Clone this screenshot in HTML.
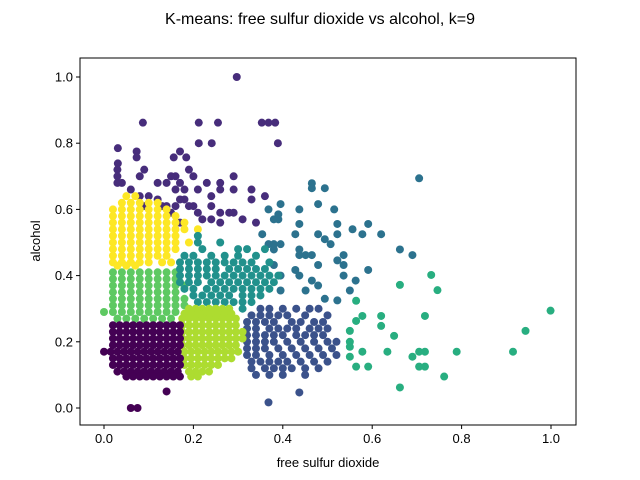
<!DOCTYPE html>
<html><head><meta charset="utf-8"><style>
html,body{margin:0;padding:0;background:#fff}
svg{display:block;font-family:"Liberation Sans","DejaVu Sans",sans-serif}
</style></head><body>
<svg id="chart" width="640" height="480" viewBox="0 0 640 480">
<text x="320" y="24" text-anchor="middle" font-size="16" fill="#000">K-means: free sulfur dioxide vs alcohol, k=9</text>
<g id="points"></g>
<rect x="80" y="58" width="496" height="367" fill="none" stroke="#000" stroke-width="1"/>
<g id="xticks"></g>
<g id="yticks"></g>
<text x="328" y="467" text-anchor="middle" font-size="13">free sulfur dioxide</text>
<text x="40" y="241" text-anchor="middle" font-size="13" transform="rotate(-90 40 241)">alcohol</text>
</svg>
<script>
const xTicks=[0.0,0.2,0.4,0.6,0.8,1.0];
const yTicks=[0.0,0.2,0.4,0.6,0.8,1.0];
const tickLabels=["0.0","0.2","0.4","0.6","0.8","1.0"];
const clusterColors=["#440154","#472d7b","#3b528b","#2c728e","#21918c","#28ae80","#5ec962","#addc30","#fde725"];
// each cluster: rows of [alcohol, [free sulfur dioxide values]]
const cluster0=[[0.25,[0.02,0.035,0.05,0.065,0.08,0.095,0.11,0.125,0.14,0.155,0.17]],[0.23,[0.02,0.035,0.05,0.065,0.08,0.095,0.11,0.125,0.14,0.155,0.17]],[0.21,[0.02,0.035,0.05,0.065,0.08,0.095,0.11,0.125,0.14,0.155,0.17]],[0.19,[0.02,0.035,0.05,0.065,0.08,0.095,0.11,0.125,0.14,0.155,0.17]],[0.17,[0.0,0.015,0.03,0.045,0.06,0.075,0.09,0.105,0.12,0.135,0.15,0.165]],[0.15,[0.02,0.035,0.05,0.065,0.08,0.095,0.11,0.125,0.14,0.155,0.17]],[0.13,[0.02,0.035,0.05,0.065,0.08,0.095,0.11,0.125,0.14,0.155,0.17]],[0.11,[0.03,0.045,0.06,0.075,0.09,0.105,0.12,0.135,0.15,0.165]],[0.095,[0.05,0.065,0.08,0.095,0.11,0.125,0.14,0.155,0.17]],[0.05,[0.14]],[0.0,[0.06,0.075]]];
const cluster7=[[0.30,[0.19,0.205,0.22,0.235,0.25,0.265,0.28]],[0.285,[0.18,0.195,0.21,0.225,0.24,0.255,0.27,0.285]],[0.27,[0.175,0.19,0.205,0.22,0.235,0.25,0.265,0.28,0.295]],[0.25,[0.175,0.19,0.205,0.22,0.235,0.25,0.265,0.28,0.295]],[0.23,[0.175,0.19,0.205,0.22,0.235,0.25,0.265,0.28,0.295,0.31]],[0.21,[0.175,0.19,0.205,0.22,0.235,0.25,0.265,0.28,0.295,0.31]],[0.19,[0.175,0.19,0.205,0.22,0.235,0.25,0.265,0.28,0.295]],[0.17,[0.18,0.195,0.21,0.225,0.24,0.255,0.27,0.285,0.30]],[0.15,[0.18,0.195,0.21,0.225,0.24,0.255,0.27,0.285]],[0.13,[0.18,0.195,0.21,0.225,0.24,0.255]],[0.11,[0.19,0.205,0.22,0.235]],[0.095,[0.195,0.21]]];
const cluster2=[[0.30,[0.35,0.37,0.40,0.43,0.46,0.48]],[0.28,[0.33,0.35,0.37,0.39,0.41,0.45,0.50]],[0.26,[0.32,0.34,0.36,0.38,0.42,0.44,0.47,0.49]],[0.24,[0.32,0.34,0.37,0.39,0.41,0.43,0.46,0.48,0.50]],[0.22,[0.32,0.34,0.36,0.38,0.40,0.43,0.45,0.47,0.49]],[0.20,[0.32,0.34,0.36,0.38,0.41,0.44,0.47,0.50,0.52]],[0.18,[0.32,0.34,0.36,0.39,0.42,0.45,0.48,0.51]],[0.16,[0.32,0.34,0.37,0.40,0.43,0.46,0.49,0.52]],[0.14,[0.33,0.35,0.37,0.39,0.41,0.44,0.47,0.50]],[0.12,[0.33,0.36,0.38,0.40,0.42,0.45,0.48]],[0.10,[0.34,0.37,0.40,0.45]],[0.047,[0.437]],[0.017,[0.368]]];
const cluster4=[[0.52,[0.21]],[0.50,[0.21,0.26]],[0.48,[0.22,0.30,0.32,0.36]],[0.46,[0.18,0.20,0.24,0.27,0.30,0.34]],[0.44,[0.17,0.19,0.21,0.23,0.25,0.27,0.29,0.31,0.33,0.37]],[0.42,[0.17,0.19,0.21,0.23,0.25,0.28,0.30,0.32,0.34,0.36]],[0.40,[0.17,0.19,0.21,0.23,0.25,0.27,0.29,0.31,0.33,0.35,0.37,0.39]],[0.38,[0.17,0.19,0.21,0.24,0.26,0.28,0.30,0.32,0.34,0.36,0.38]],[0.36,[0.18,0.20,0.23,0.25,0.27,0.29,0.31,0.33,0.35,0.37]],[0.34,[0.20,0.22,0.24,0.26,0.28,0.31,0.33,0.35]],[0.32,[0.21,0.23,0.25,0.27,0.29,0.31,0.33]],[0.30,[0.25,0.28,0.31]]];
const cluster6=[[0.41,[0.02,0.04,0.06,0.08,0.10,0.12,0.14,0.16]],[0.39,[0.02,0.04,0.06,0.08,0.10,0.12,0.14,0.16]],[0.37,[0.02,0.04,0.06,0.08,0.10,0.12,0.14,0.16,0.18]],[0.35,[0.02,0.04,0.06,0.08,0.10,0.12,0.14,0.16]],[0.33,[0.02,0.04,0.06,0.08,0.10,0.12,0.14,0.16,0.18]],[0.31,[0.02,0.04,0.06,0.08,0.10,0.12,0.14,0.16,0.18]],[0.29,[0.0,0.02,0.04,0.06,0.08,0.10,0.12,0.14,0.16]],[0.27,[0.03,0.05,0.07,0.09,0.11,0.13,0.15]]];
const cluster8=[[0.64,[0.05,0.07]],[0.62,[0.04,0.06,0.08,0.10,0.12]],[0.60,[0.02,0.04,0.06,0.08,0.10,0.12,0.14]],[0.58,[0.02,0.04,0.06,0.08,0.10,0.12,0.14,0.16]],[0.56,[0.02,0.04,0.06,0.08,0.10,0.12,0.14,0.16,0.18]],[0.54,[0.02,0.04,0.06,0.08,0.10,0.12,0.14,0.16,0.18,0.21]],[0.52,[0.02,0.04,0.06,0.08,0.10,0.12,0.14,0.16]],[0.50,[0.02,0.04,0.06,0.08,0.10,0.12,0.14,0.16,0.19]],[0.48,[0.02,0.04,0.06,0.08,0.10,0.12,0.14,0.16]],[0.46,[0.02,0.04,0.06,0.08,0.10,0.12,0.14]],[0.44,[0.02,0.04,0.06,0.08,0.10,0.13,0.15]],[0.43,[0.03,0.05,0.07]]];
const cluster1=[[1.0,[0.297]],[0.862,[0.087,0.212,0.255,0.353,0.368,0.383]],[0.80,[0.212,0.241,0.389]],[0.785,[0.031]],[0.775,[0.073,0.17]],[0.757,[0.073,0.156,0.184]],[0.739,[0.031]],[0.72,[0.03,0.09,0.19]],[0.70,[0.03,0.08,0.15,0.20,0.16,0.29]],[0.68,[0.03,0.04,0.12,0.14,0.17,0.23,0.26]],[0.66,[0.06,0.16,0.18,0.21,0.26,0.29,0.33]],[0.64,[0.08,0.10,0.24,0.36]],[0.63,[0.17,0.18,0.33,0.12]],[0.61,[0.09,0.13,0.14,0.16,0.19,0.20,0.24]],[0.59,[0.15,0.21,0.26,0.28,0.29]],[0.57,[0.22,0.24,0.31]],[0.56,[0.17,0.26,0.34]]];
const cluster3=[[0.694,[0.705]],[0.679,[0.465]],[0.664,[0.465,0.494]],[0.616,[0.395,0.479]],[0.60,[0.368,0.437,0.515]],[0.585,[0.39]],[0.57,[0.38,0.39]],[0.556,[0.437,0.522,0.591]],[0.54,[0.556]],[0.525,[0.354,0.428,0.479,0.522,0.578,0.62]],[0.51,[0.494]],[0.495,[0.368,0.38,0.395,0.507]],[0.479,[0.38,0.437,0.662]],[0.462,[0.437,0.451,0.465,0.536,0.69]],[0.446,[0.522]],[0.432,[0.38,0.479,0.536]],[0.417,[0.428,0.591]],[0.40,[0.395,0.437,0.536]],[0.385,[0.465,0.563]],[0.37,[0.479]],[0.355,[0.395,0.451,0.55]],[0.33,[0.494]],[0.325,[0.522]]];
const cluster5=[[0.402,[0.732]],[0.372,[0.662]],[0.356,[0.746]],[0.324,[0.564]],[0.294,[0.999]],[0.278,[0.578,0.62,0.718]],[0.263,[0.564]],[0.248,[0.62]],[0.233,[0.55,0.943]],[0.218,[0.649]],[0.20,[0.55]],[0.185,[0.55]],[0.17,[0.578,0.634,0.705,0.718,0.789,0.915]],[0.155,[0.55,0.69]],[0.125,[0.564,0.591,0.705,0.718]],[0.095,[0.761]],[0.062,[0.662]]];
const clusters=[cluster1,cluster3,cluster5,cluster8,cluster6,cluster4,cluster2,cluster7,cluster0];
const clusterIds=[1,3,5,8,6,4,2,7,0];

const X=v=>104+447*v, Y=v=>408-331*v;
const NS="http://www.w3.org/2000/svg";
const pg=document.getElementById('points');
clusters.forEach((rows,ci)=>{
  const g=document.createElementNS(NS,'g');
  
  
  rows.forEach(r=>r[1].forEach(xv=>{
    const c=document.createElementNS(NS,'circle');
    c.setAttribute('cx',X(xv));c.setAttribute('cy',Y(r[0]));c.setAttribute('r',4);
    c.setAttribute('fill',clusterColors[clusterIds[ci]]);
    
    
    g.appendChild(c);
  }));
  pg.appendChild(g);
});
const xg=document.getElementById('xticks'), yg=document.getElementById('yticks');
xTicks.forEach((v,i)=>{
  const l=document.createElementNS(NS,'line');
  l.setAttribute('x1',X(v));l.setAttribute('x2',X(v));l.setAttribute('y1',425);l.setAttribute('y2',429);l.setAttribute('stroke','#000');
  
  
  xg.appendChild(l);
  const t=document.createElementNS(NS,'text');
  t.setAttribute('x',X(v));t.setAttribute('y',443);t.setAttribute('text-anchor','middle');t.setAttribute('font-size','13');
  t.textContent=tickLabels[i];
  
  
  xg.appendChild(t);
});
yTicks.forEach((v,i)=>{
  const l=document.createElementNS(NS,'line');
  l.setAttribute('x1',76);l.setAttribute('x2',80);l.setAttribute('y1',Y(v));l.setAttribute('y2',Y(v));l.setAttribute('stroke','#000');
  
  
  yg.appendChild(l);
  const t=document.createElementNS(NS,'text');
  t.setAttribute('x',73);t.setAttribute('y',Y(v)+4.5);t.setAttribute('text-anchor','end');t.setAttribute('font-size','13');
  t.textContent=tickLabels[i];
  
  
  yg.appendChild(t);
});
</script>
</body></html>
